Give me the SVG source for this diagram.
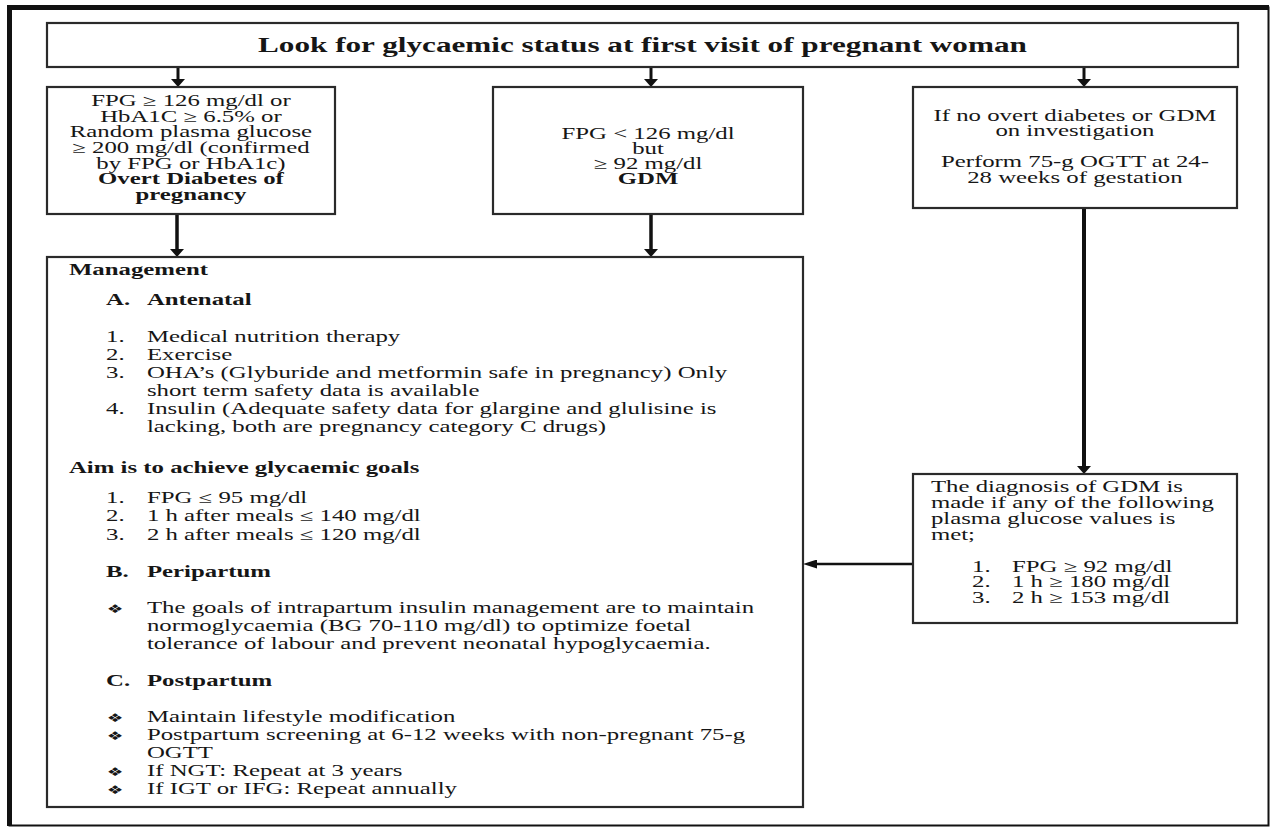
<svg xmlns="http://www.w3.org/2000/svg" width="1270" height="827" viewBox="0 0 1270 827">
<style>
.box{fill:#fff;stroke:#2a2a2a;stroke-width:2.2}
.frame{fill:none;stroke:#111}
.con{stroke:#111;fill:none}
.t{font-family:"Liberation Serif","Times New Roman",serif;font-size:16px;fill:#161616}
.b{font-weight:bold}
.c{text-anchor:middle}
.title{font-family:"Liberation Serif","Times New Roman",serif;font-size:20.8px;font-weight:bold;fill:#161616;text-anchor:middle}
.bul{font-family:"DejaVu Sans",sans-serif;font-size:12px;fill:#161616}
</style>
<defs>
<marker id="av" viewBox="0 0 10 10" refX="0" refY="5" markerUnits="userSpaceOnUse" markerWidth="8" markerHeight="14" orient="auto" preserveAspectRatio="none"><path d="M0,0 L10,5 L0,10 Z" fill="#111"/></marker>
<marker id="ah" viewBox="0 0 10 10" refX="0" refY="5" markerUnits="userSpaceOnUse" markerWidth="14" markerHeight="9" orient="auto" preserveAspectRatio="none"><path d="M0,0 L10,5 L0,10 Z" fill="#111"/></marker>
</defs>
<rect width="1270" height="827" fill="#fff"/>
<g id="frame">
<rect class="frame" x="9.5" y="7.5" width="1259" height="818" stroke-width="2"/>
<line class="frame" x1="9.5" y1="5" x2="9.5" y2="826" stroke-width="5"/>
<line class="frame" x1="7" y1="7.5" x2="1269" y2="7.5" stroke-width="5"/>
</g>
<g id="connectors">
<line class="con" x1="178" y1="67" x2="178" y2="79" stroke-width="3" marker-end="url(#av)"/>
<line class="con" x1="651" y1="67" x2="651" y2="79" stroke-width="3" marker-end="url(#av)"/>
<line class="con" x1="1084" y1="67" x2="1084" y2="79" stroke-width="3" marker-end="url(#av)"/>
<line class="con" x1="177" y1="214" x2="177" y2="249" stroke-width="3.5" marker-end="url(#av)"/>
<line class="con" x1="651" y1="214" x2="651" y2="249" stroke-width="3.5" marker-end="url(#av)"/>
<line class="con" x1="1084" y1="208" x2="1084" y2="466" stroke-width="4" marker-end="url(#av)"/>
<line class="con" x1="913" y1="564" x2="817" y2="564" stroke-width="2.5" marker-end="url(#ah)"/>
</g>
<g id="title-box">
<rect class="box" x="47" y="23" width="1191" height="44"/>
<g transform="scale(1.5,1)"><text class="title" x="428.3" y="52">Look for glycaemic status at first visit of pregnant woman</text></g>
</g>
<g id="overt-box">
<rect class="box" x="47" y="87" width="288" height="127"/>
<g transform="scale(1.55,1)">
<text class="t c" x="123.2" y="106">FPG ≥ 126 mg/dl or</text>
<text class="t c" x="123.2" y="121.7">HbA1C ≥ 6.5% or</text>
<text class="t c" x="123.2" y="137.3">Random plasma glucose</text>
<text class="t c" x="123.2" y="153">≥ 200 mg/dl (confirmed</text>
<text class="t c" x="123.2" y="168.7">by FPG or HbA1c)</text>
<text class="t c b" x="123.2" y="184.3">Overt Diabetes of</text>
<text class="t c b" x="123.2" y="200">pregnancy</text>
</g>
</g>
<g id="gdm-box">
<rect class="box" x="493" y="87" width="310" height="127"/>
<g transform="scale(1.55,1)">
<text class="t c" x="418.1" y="139">FPG &lt; 126 mg/dl</text>
<text class="t c" x="418.1" y="154">but</text>
<text class="t c" x="418.1" y="169">≥ 92 mg/dl</text>
<text class="t c b" x="418.1" y="184">GDM</text>
</g>
</g>
<g id="ogtt-box">
<rect class="box" x="913" y="87" width="324" height="121"/>
<g transform="scale(1.55,1)">
<text class="t c" x="693.5" y="121">If no overt diabetes or GDM</text>
<text class="t c" x="693.5" y="136.5">on investigation</text>
<text class="t c" x="693.5" y="167.5">Perform 75-g OGTT at 24-</text>
<text class="t c" x="693.5" y="183">28 weeks of gestation</text>
</g>
</g>
<g id="diagnosis-box">
<rect class="box" x="913" y="474" width="324" height="149"/>
<g transform="scale(1.55,1)">
<text class="t" x="600.6" y="492">The diagnosis of GDM is</text>
<text class="t" x="600.6" y="508">made if any of the following</text>
<text class="t" x="600.6" y="524">plasma glucose values is</text>
<text class="t" x="600.6" y="540">met;</text>
<text class="t" x="627.1" y="572">1.</text><text class="t" x="652.9" y="572">FPG ≥ 92 mg/dl</text>
<text class="t" x="627.1" y="587.5">2.</text><text class="t" x="652.9" y="587.5">1 h ≥ 180 mg/dl</text>
<text class="t" x="627.1" y="603">3.</text><text class="t" x="652.9" y="603">2 h ≥ 153 mg/dl</text>
</g>
</g>
<g id="management-box">
<rect class="box" x="47" y="257" width="756" height="550"/>
<g transform="scale(1.55,1)">
<text class="t b" x="44.5" y="275">Management</text>
<text class="t b" x="68.4" y="305">A.</text><text class="t b" x="94.8" y="305">Antenatal</text>
<text class="t" x="68.4" y="341.7">1.</text><text class="t" x="94.8" y="341.7">Medical nutrition therapy</text>
<text class="t" x="68.4" y="359.7">2.</text><text class="t" x="94.8" y="359.7">Exercise</text>
<text class="t" x="68.4" y="377.7">3.</text><text class="t" x="94.8" y="377.7">OHA’s (Glyburide and metformin safe in pregnancy) Only</text>
<text class="t" x="94.8" y="395.7">short term safety data is available</text>
<text class="t" x="68.4" y="413.7">4.</text><text class="t" x="94.8" y="413.7">Insulin (Adequate safety data for glargine and glulisine is</text>
<text class="t" x="94.8" y="431.7">lacking, both are pregnancy category C drugs)</text>
<text class="t b" x="44.5" y="473">Aim is to achieve glycaemic goals</text>
<text class="t" x="68.4" y="503">1.</text><text class="t" x="94.8" y="503">FPG ≤ 95 mg/dl</text>
<text class="t" x="68.4" y="521.5">2.</text><text class="t" x="94.8" y="521.5">1 h after meals ≤ 140 mg/dl</text>
<text class="t" x="68.4" y="540">3.</text><text class="t" x="94.8" y="540">2 h after meals ≤ 120 mg/dl</text>
<text class="t b" x="68.4" y="577">B.</text><text class="t b" x="94.8" y="577">Peripartum</text>
<text class="bul" x="68.8" y="613">❖</text><text class="t" x="94.8" y="612.7">The goals of intrapartum insulin management are to maintain</text>
<text class="t" x="94.8" y="630.7">normoglycaemia (BG 70-110 mg/dl) to optimize foetal</text>
<text class="t" x="94.8" y="648.7">tolerance of labour and prevent neonatal hypoglycaemia.</text>
<text class="t b" x="68.4" y="686">C.</text><text class="t b" x="94.8" y="686">Postpartum</text>
<text class="bul" x="68.8" y="722">❖</text><text class="t" x="94.8" y="721.7">Maintain lifestyle modification</text>
<text class="bul" x="68.8" y="740.3">❖</text><text class="t" x="94.8" y="740">Postpartum screening at 6-12 weeks with non-pregnant 75-g</text>
<text class="t" x="94.8" y="758.3">OGTT</text>
<text class="bul" x="68.8" y="776.3">❖</text><text class="t" x="94.8" y="776">If NGT: Repeat at 3 years</text>
<text class="bul" x="68.8" y="794.3">❖</text><text class="t" x="94.8" y="794">If IGT or IFG: Repeat annually</text>
</g>
</g>
</svg>
